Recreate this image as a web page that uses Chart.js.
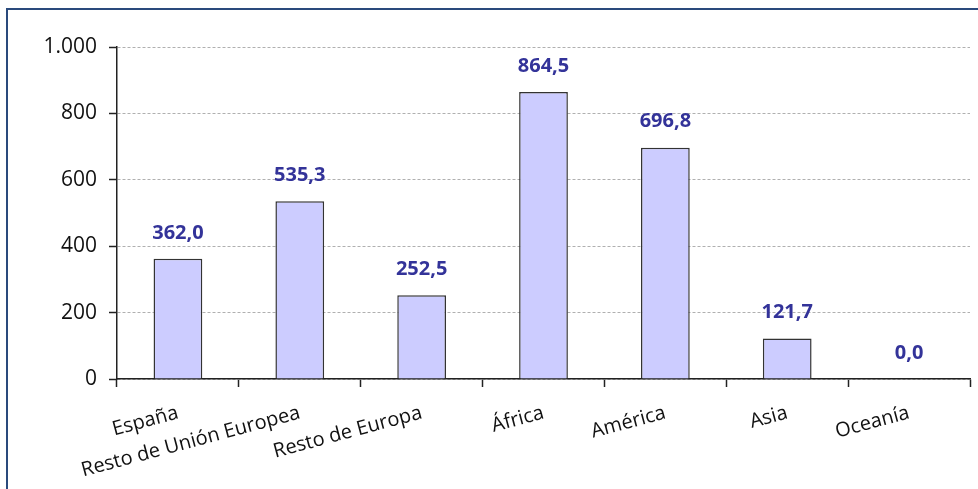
<!DOCTYPE html>
<html>
<head>
<meta charset="utf-8">
<script src="https://cdn.jsdelivr.net/npm/chart.js@4/dist/chart.umd.min.js"></script>
<style>
  html, body { margin: 0; padding: 0; background: #fff; }
  #wrap { position: relative; width: 978px; height: 489px; }
</style>
</head>
<body>
<div id="wrap"><canvas id="chart" width="978" height="489"></canvas></div>
<script>
// Datos por región
const categories = ['España', 'Resto de Unión Europea', 'Resto de Europa', 'África', 'América', 'Asia', 'Oceanía'];
const values = [362.0, 535.3, 252.5, 864.5, 696.8, 121.7, 0.0];
const yTicks = [0, 200, 400, 600, 800, 1000];

const fmtThousands = v => String(v).replace(/\B(?=(\d{3})+(?!\d))/g, '.');
const fmtValue = v => v.toFixed(1).replace('.', ',');

// marco del gráfico (como en Excel)
const framePlugin = {
  id: 'frame',
  beforeDraw(chart) {
    const ctx = chart.ctx;
    ctx.save();
    ctx.strokeStyle = '#2a4a7c';
    ctx.lineWidth = 2;
    ctx.strokeRect(7, 9, 1200, 1200);
    ctx.restore();
  }
};

// etiquetas de valor sobre las barras
const valueLabels = {
  id: 'valueLabels',
  afterDatasetsDraw(chart) {
    const ctx = chart.ctx;
    const meta = chart.getDatasetMeta(0);
    ctx.save();
    ctx.font = 'bold 20px "Open Sans", sans-serif';
    ctx.fillStyle = '#333399';
    ctx.textAlign = 'center';
    ctx.textBaseline = 'middle';
    meta.data.forEach((bar, i) => {
      ctx.fillText(fmtValue(values[i]), bar.x, bar.y - 26);
    });
    ctx.restore();
  }
};

new Chart(document.getElementById('chart').getContext('2d'), {
  type: 'bar',
  data: {
    labels: categories,
    datasets: [{
      data: values,
      backgroundColor: '#ccccff',
      borderColor: '#333',
      borderWidth: 1.5,
      barPercentage: 0.4,
      categoryPercentage: 1.0
    }]
  },
  options: {
    responsive: false,
    animation: false,
    layout: { padding: { left: 0, top: 47, right: 8, bottom: 0 } },
    plugins: {
      legend: { display: false },
      tooltip: { enabled: false }
    },
    scales: {
      x: {
        grid: {
          offset: true,
          drawOnChartArea: false,
          drawTicks: true,
          tickLength: 8,
          tickColor: '#222',
          tickWidth: 1.5
        },
        border: { display: true, color: '#222', width: 1.5 },
        ticks: {
          color: '#111',
          font: { family: '"Open Sans", sans-serif', size: 20 },
          minRotation: 15,
          maxRotation: 15,
          autoSkip: false,
          padding: 14
        },
        afterFit(scale) { scale.height = 110; }
      },
      y: {
        min: 0,
        max: 1000,
        afterBuildTicks(scale) { scale.ticks = yTicks.map(v => ({ value: v })); },
        grid: {
          color: '#b0b0b0',
          lineWidth: 1,
          drawTicks: true,
          tickLength: 8,
          tickColor: '#222',
          tickWidth: 1.5
        },
        border: { display: true, color: '#222', width: 1.5, dash: [3, 2] },
        ticks: {
          color: '#111',
          font: { family: '"Open Sans", sans-serif', size: 21 },
          padding: 12,
          callback: v => fmtThousands(v)
        },
        afterFit(scale) { scale.width = 117; }
      }
    }
  },
  plugins: [framePlugin, valueLabels]
});
</script>
</body>
</html>
